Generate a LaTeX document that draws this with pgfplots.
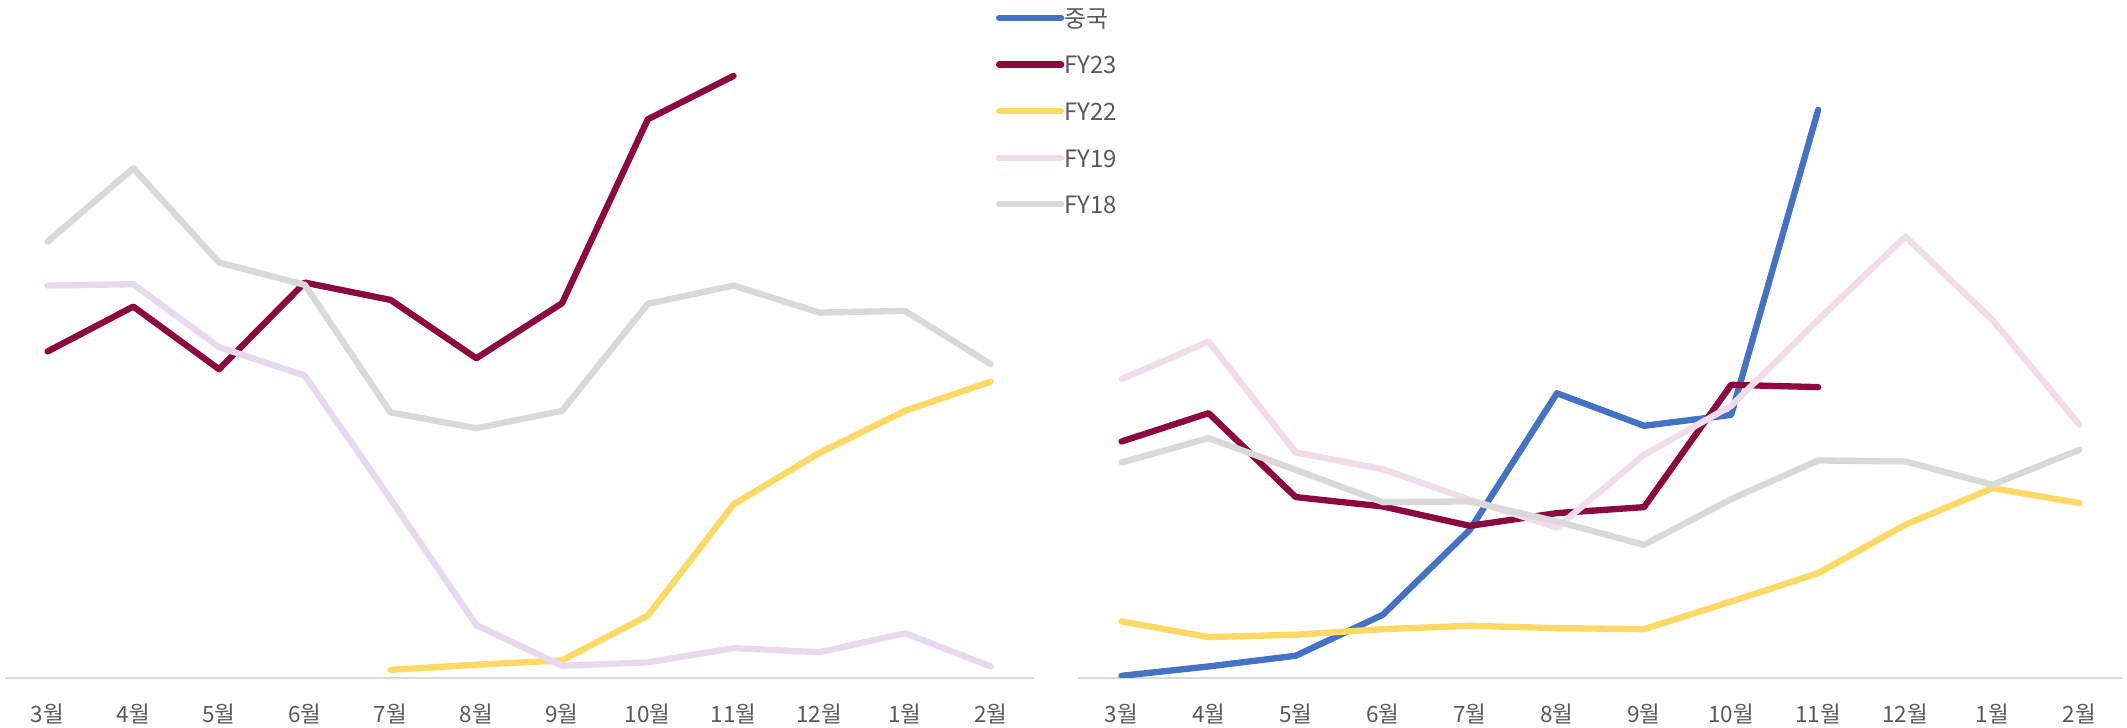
\documentclass[border=0pt]{standalone}
\usepackage{fontspec}
\usepackage{pgfplots}
\pgfplotsset{compat=1.18}
\newfontfamily\kr{Noto Sans CJK KR}
\definecolor{cBlue}{HTML}{4472C4}
\definecolor{cRed}{HTML}{8C0A40}
\definecolor{cYellow}{HTML}{FFD966}
\definecolor{cPinkL}{HTML}{E9D9EF}
\definecolor{cPinkR}{HTML}{F1DCEA}
\definecolor{cGray}{HTML}{D9D9D9}
\definecolor{cText}{HTML}{595959}
\begin{document}
\begin{tikzpicture}
\useasboundingbox (0,0) rectangle (21.27,7.28);
\pgfplotsset{
  panel/.style={
    scale only axis, height=6.78cm, ymin=0, ymax=500, xmin=-0.5, xmax=11.5,
    axis x line*=bottom, axis y line=none,
    x axis line style={draw=cGray, line width=0.6pt},
    xtick={0,...,11},
    xticklabels={3월,4월,5월,6월,7월,8월,9월,10월,11월,12월,1월,2월},
    major tick length=0pt,
    xticklabel style={font=\kr\fontsize{6.4}{7}\selectfont, text=cText, anchor=center, yshift=-0.355cm, inner sep=0pt},
    every axis plot/.append style={line width=1.8pt, line join=round, line cap=round, mark=none},
  }
}
% Left panel
\begin{axis}[panel, at={(0.047cm,0.5cm)}, anchor=south west, width=10.29cm]
\addplot[cRed] coordinates {(0,240.8) (1,273.9) (2,227.7) (3,291.6) (4,278.8) (5,235.8) (6,276.4) (7,412) (8,444)};
\addplot[cYellow] coordinates {(4,6) (5,9.8) (6,13) (7,46) (8,128) (9,166) (10,197) (11,218.6)};
\addplot[cPinkL] coordinates {(0,289.4) (1,290.4) (2,244) (3,223) (4,132) (5,39) (6,9) (7,11.5) (8,22) (9,19) (10,33) (11,8.5)};
\addplot[cGray] coordinates {(0,321.8) (1,375.9) (2,306.4) (3,289.9) (4,195.8) (5,184.2) (6,197) (7,275.9) (8,289.4) (9,269.5) (10,270.7) (11,231.4)};
\end{axis}
% Right panel
\begin{axis}[panel, at={(10.78cm,0.5cm)}, anchor=south west, width=10.45cm,
  legend cell align=left,
  legend style={at={(axis description cs:-0.0785,1.005)}, anchor=north west,
    draw=none, fill=none, inner sep=0pt, outer sep=0pt,
    font=\kr\fontsize{6.8}{7}\selectfont, text=cText, row sep=0pt,
    nodes={inner sep=0pt, text height=0.308cm, text depth=0.158cm},
    /tikz/every even column/.append style={column sep=0.06cm}},
  legend image code/.code={\draw[#1, line width=1.8pt, line cap=round] (0.03cm,0.02cm) -- (0.54cm,0.02cm); \path (0cm,0.02cm) -- (0.62cm,0.02cm);}
]
\addplot[cBlue] coordinates {(0,1.6) (1,8.5) (2,16.4) (3,46.6) (4,109.3) (5,210) (6,186) (7,194) (8,419)};
\addlegendentry{중국}
\addplot[cRed] coordinates {(0,174.4) (1,195.3) (2,133.4) (3,126.5) (4,112.2) (5,121.6) (6,126) (7,216.2) (8,214.5)};
\addlegendentry{FY23}
\addplot[cYellow] coordinates {(0,41.7) (1,30.2) (2,31.9) (3,36) (4,38.5) (5,36.8) (6,36) (7,56.4) (8,77.3) (9,113) (10,140) (11,129)};
\addlegendentry{FY22}
\addplot[cPinkR] coordinates {(0,220.4) (1,248.1) (2,166.3) (3,154) (4,131.4) (5,111) (6,164.6) (7,200.7) (8,264.1) (9,325.5) (10,264.1) (11,186.7)};
\addlegendentry{FY19}
\addplot[cGray] coordinates {(0,158.9) (1,176.9) (2,153.5) (3,129.7) (4,130.2) (5,115.4) (6,98.2) (7,131.9) (8,160.4) (9,159.7) (10,142.5) (11,168.3)};
\addlegendentry{FY18}
\end{axis}
\end{tikzpicture}
\end{document}
